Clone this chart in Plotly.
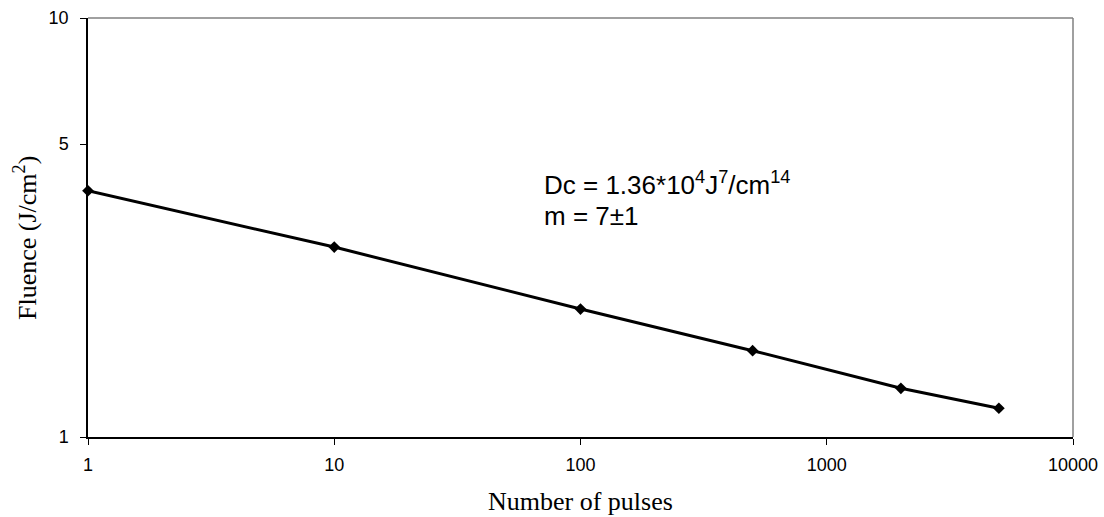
import plotly.graph_objects as go

pulses = [1, 10, 100, 500, 2000, 5000]
fluence = [3.87, 2.84, 2.02, 1.607, 1.307, 1.171]
x_ticks = [1, 10, 100, 1000, 10000]
y_ticks = [1, 5, 10]

fig = go.Figure()
fig.add_trace(go.Scatter(
    x=pulses, y=fluence, mode="lines+markers",
    line=dict(color="black", width=3),
    marker=dict(symbol="diamond", size=9, color="black"),
    showlegend=False, cliponaxis=False,
))

serif = "Liberation Serif, Times New Roman"
sans = "Liberation Sans, Arial"

fig.update_layout(
    width=1104, height=517,
    margin=dict(l=88, r=31, t=18, b=80),
    paper_bgcolor="white", plot_bgcolor="white",
    font=dict(family=sans, size=18, color="black"),
    xaxis=dict(
        type="log", range=[0, 4], tickvals=x_ticks, ticktext=[str(v) for v in x_ticks],
        showgrid=False, zeroline=False, showline=True, linecolor="black", linewidth=1.5,
        ticks="outside", ticklen=6, tickcolor="black", ticklabelstandoff=5,
        tickfont=dict(size=18), automargin=False,
    ),
    yaxis=dict(
        type="log", range=[0, 1], tickvals=y_ticks, ticktext=[str(v) for v in y_ticks],
        showgrid=False, zeroline=False, showline=True, linecolor="black", linewidth=1.5,
        ticks="outside", ticklen=6, tickcolor="black", ticklabelstandoff=8,
        tickfont=dict(size=18), automargin=False,
    ),
    shapes=[
        dict(type="line", xref="paper", yref="paper", x0=0, x1=1, y0=1, y1=1, line=dict(color="#808080", width=1.5)),
        dict(type="line", xref="paper", yref="paper", x0=1, x1=1, y0=0, y1=1, line=dict(color="#808080", width=1.5)),
    ],
    annotations=[
        dict(
            xref="paper", yref="paper", x=0.461, y=0.604, xanchor="left", yanchor="middle",
            text="Dc = 1.36*10<sup>4</sup>J<sup>7</sup>/cm<sup>14</sup>",
            align="left", showarrow=False, font=dict(family=sans, size=26, color="black"),
        ),
        dict(
            xref="paper", yref="paper", x=0.461, y=0.527, xanchor="left", yanchor="middle",
            text="m = 7±1",
            align="left", showarrow=False, font=dict(family=sans, size=26, color="black"),
        ),
        dict(
            xref="paper", yref="paper", x=0.5, y=-0.155, xanchor="center", yanchor="middle",
            text="Number of pulses", showarrow=False,
            font=dict(family=serif, size=26, color="black"),
        ),
        dict(
            xref="paper", yref="paper", x=-0.0629, y=0.475, xanchor="center", yanchor="middle",
            text="Fluence (J/cm<sup>2</sup>)", textangle=-90, showarrow=False,
            font=dict(family=serif, size=26, color="black"),
        ),
    ],
)

fig.write_html("out.html")
